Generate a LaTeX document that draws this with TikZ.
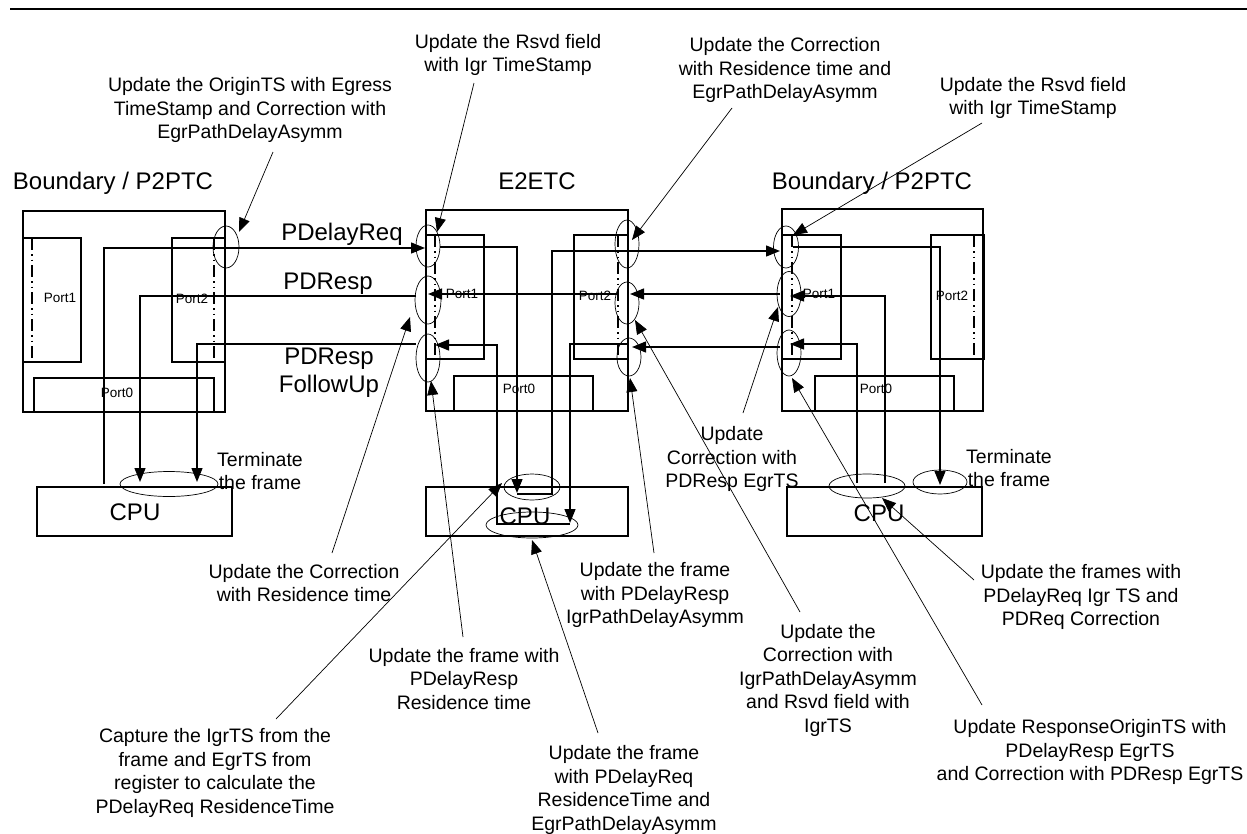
\documentclass[tikz,border=0pt]{standalone}
\usepackage{fontspec}
\setmainfont{Liberation Sans}
\usetikzlibrary{arrows.meta,shapes.geometric}

\tikzset{
  box/.style={line width=1.3pt},
  sig/.style={line width=1.3pt,-{Triangle[length=14pt,width=11pt]}},
  plain/.style={line width=1.3pt},
  lead/.style={line width=0.7pt,-{Triangle[length=14pt,width=11pt]}},
  tap/.style={draw,ellipse,line width=0.7pt,inner sep=0pt},
  portdash/.style={line width=2.4pt,dash pattern=on 12pt off 4pt on 1.5pt off 4pt on 1.5pt off 4pt},
  note/.style={font=\fontsize{19.5}{23.5}\selectfont,align=center,inner sep=0pt},
  big/.style={font=\fontsize{24}{28}\selectfont,align=center,inner sep=0pt},
  plabel/.style={font=\fontsize{13.5}{16}\selectfont,inner sep=0pt}
}

\begin{document}
\begin{tikzpicture}[x=1pt,y=-1pt]
\useasboundingbox (0,0) rectangle (1247,833);

\draw[line width=2pt] (10,9) -- (1247,9);

% Left device
\draw[box] (23,211) rectangle (225,412);
\draw[box] (23,238) rectangle (81,362);
\draw[box] (172,238) rectangle (225,362);
\draw[box] (34,378) rectangle (214,412);
\draw[portdash] (32,238) -- (32,362);
\draw[portdash] (214,238) -- (214,362);
\node[big] (titleL) at (113,183) {Boundary / P2PTC};
\node[plabel] (l1) at (60,298) {Port1};
\node[plabel] (l2) at (192,299) {Port2};
\node[plabel] (l0) at (117,393) {Port0};
\draw[box] (37,487) rectangle (232,536);
\node[big] (cpuL) at (135,512) {CPU};

% E2E transparent clock
\draw[box] (426,210) rectangle (628,411);
\draw[box] (426,235) rectangle (484,359);
\draw[box] (574,235) rectangle (628,359);
\draw[box] (454,376) rectangle (593,411);
\draw[portdash] (435,235) -- (435,359);
\draw[portdash] (618,235) -- (618,359);
\node[big] (titleM) at (537,181) {E2ETC};
\node[plabel] (m1) at (462,294) {Port1};
\node[plabel] (m2) at (595,296) {Port2};
\node[plabel] (m0) at (519,389) {Port0};
\draw[box] (426,487) rectangle (628,536);
\node[big] (cpuM) at (525,516) {CPU};

% Right device
\draw[box] (782,209) rectangle (983,411);
\draw[box] (782,235) rectangle (841,359);
\draw[box] (931,235) rectangle (984,359);
\draw[box] (815,376) rectangle (954,411);
\draw[portdash] (792,235) -- (792,359);
\draw[portdash] (974,235) -- (974,359);
\node[big] (titleR) at (872,183) {Boundary / P2PTC};
\node[plabel] (r1) at (819,294) {Port1};
\node[plabel] (r2) at (952,296) {Port2};
\node[plabel] (r0) at (876,389) {Port0};
\draw[box] (787,487) rectangle (982,536);
\node[big] (cpuR) at (879,513) {CPU};

% timestamp points
\node[tap,minimum width=26pt,minimum height=42pt] (tapL) at (226,247) {};
\node[tap,minimum width=98pt,minimum height=25pt] (tapLc) at (169,484) {};
\node[tap,minimum width=24pt,minimum height=42pt] (tapM1) at (428,246) {};
\node[tap,minimum width=26pt,minimum height=48pt] (tapM2) at (428,300) {};
\node[tap,minimum width=24pt,minimum height=48pt] (tapM3) at (428,358) {};
\node[tap,minimum width=24pt,minimum height=48pt] (tapM4) at (627,244) {};
\node[tap,minimum width=24pt,minimum height=42pt] (tapM5) at (627,303) {};
\node[tap,minimum width=24pt,minimum height=38pt] (tapM6) at (629,357) {};
\node[tap,minimum width=56pt,minimum height=26pt] (tapMc1) at (532,487) {};
\node[tap,minimum width=92pt,minimum height=26pt] (tapMc2) at (532,525) {};
\node[tap,minimum width=25pt,minimum height=42pt] (tapR1) at (786,247) {};
\node[tap,minimum width=24pt,minimum height=45pt] (tapR2) at (789,294) {};
\node[tap,minimum width=24pt,minimum height=46pt] (tapR3) at (789,353) {};
\node[tap,minimum width=76pt,minimum height=24pt] (tapRc1) at (867,486) {};
\node[tap,minimum width=54pt,minimum height=24pt] (tapRc2) at (940,482) {};

% message names
\node[big] (mReq) at (342,234) {PDelayReq};
\node[big] (mResp) at (328,284) {PDResp};
\node[big,font=\fontsize{24}{28}\selectfont] (mFup) at (329,373) {PDResp\\FollowUp};
\node[note] (termL) at (260,471) {Terminate\\the frame};
\node[note] (termR) at (1009,468) {Terminate\\the frame};

% signal ends
\coordinate (lReqA) at (104,484);   \coordinate (lReqB) at (425,248);
\coordinate (lRespA) at (416,296);  \coordinate (lRespB) at (140,482);
\coordinate (lFupA) at (416,344);   \coordinate (lFupB) at (197,482);
\coordinate (mReqA) at (440,247);   \coordinate (mReqB) at (517,493);
\coordinate (mReqC) at (517,494);   \coordinate (mReqD) at (780,251);
\coordinate (mRespA) at (780,294);  \coordinate (mRespB) at (630,294);
\coordinate (mRespC) at (618,294);  \coordinate (mRespD) at (428,294);
\coordinate (mFupA) at (780,347);   \coordinate (mFupB) at (632,347);
\coordinate (mFupC) at (628,344);   \coordinate (mFupD) at (570,523);
\coordinate (mFupE) at (570,524);   \coordinate (mFupF) at (435,345);
\coordinate (rReqA) at (793,247);   \coordinate (rReqB) at (940,485);
\coordinate (rRespA) at (885,483);  \coordinate (rRespB) at (790,296);
\coordinate (rFupA) at (857,483);   \coordinate (rFupB) at (790,344);

% PDelayReq
\draw[sig] (lReqA) |- (lReqB);
\draw[sig] (mReqA) -| (mReqB);
\draw[sig] (mReqC) -- (552,494) |- (mReqD);
\draw[sig] (rReqA) -| (rReqB);
% PDResp
\draw[sig] (rRespA) |- (rRespB);
\draw[sig] (mRespA) -- (mRespB);
\draw[sig] (mRespC) -- (mRespD);
\draw[sig] (lRespA) -| (lRespB);
% PDResp FollowUp
\draw[sig] (rFupA) |- (rFupB);
\draw[sig] (mFupA) -- (mFupB);
\draw[sig] (mFupC) -| (mFupD);
\draw[sig] (mFupE) -- (497,524) |- (mFupF);
\draw[sig] (lFupA) -| (lFupB);

% notes
\node[note] (nOrigin) at (250,110) {Update the OriginTS with Egress\\TimeStamp and Correction with\\EgrPathDelayAsymm};
\node[note] (nRsvdM) at (508,55) {Update the Rsvd field\\with Igr TimeStamp};
\node[note] (nCorrM) at (785,70) {Update the Correction\\with Residence time and\\EgrPathDelayAsymm};
\node[note] (nRsvdR) at (1033,98) {Update the Rsvd field\\with Igr TimeStamp};
\node[note] (nCorrRes) at (304,583) {Update the Correction\\with Residence time};
\node[note] (nRespRes) at (464,679) {Update the frame with\\PDelayResp\\Residence time};
\node[note] (nCapture) at (215,773) {Capture the IgrTS from the\\frame and EgrTS from\\register to calculate the\\PDelayReq ResidenceTime};
\node[note] (nReqRes) at (624,790) {Update the frame\\with PDelayReq\\ResidenceTime and\\EgrPathDelayAsymm};
\node[note] (nRespIgr) at (655,595) {Update the frame\\with PDelayResp\\IgrPathDelayAsymm};
\node[note] (nCorrIgr) at (828,680) {Update the\\Correction with\\IgrPathDelayAsymm\\and Rsvd field with\\IgrTS};
\node[note] (nCorrEgr) at (732,459) {Update\\Correction with\\PDResp EgrTS};
\node[note] (nFrames) at (1081,597) {Update the frames with\\PDelayReq Igr TS and\\PDReq Correction};
\node[note] (nRespOrig) at (1090,752) {Update ResponseOriginTS with\\PDelayResp EgrTS\\and Correction with PDResp EgrTS};

% leader ends
\coordinate (aOrigin) at (273,152);   \coordinate (tOrigin) at (239,232);
\coordinate (aRsvdM) at (474,83);     \coordinate (tRsvdM) at (437,232);
\coordinate (aCorrM) at (732,108);    \coordinate (tCorrM) at (632,240);
\coordinate (aRsvdR) at (982,123);    \coordinate (tRsvdR) at (793,235);
\coordinate (aCorrRes) at (332,553);  \coordinate (tCorrRes) at (410,317);
\coordinate (aRespRes) at (463,637);  \coordinate (tRespRes) at (431,381);
\coordinate (aCapture) at (276,719);  \coordinate (tCapture) at (502,483);
\coordinate (aReqRes) at (598,733);   \coordinate (tReqRes) at (532,540);
\coordinate (aRespIgr) at (654,553);  \coordinate (tRespIgr) at (630,378);
\coordinate (aCorrIgr) at (800,612);  \coordinate (tCorrIgr) at (635,320);
\coordinate (aCorrEgr) at (743,413);  \coordinate (tCorrEgr) at (778,307);
\coordinate (aFrames) at (974,580);   \coordinate (tFrames) at (882,498);
\coordinate (aRespOrig) at (982,705); \coordinate (tRespOrig) at (792,378);

\draw[lead] (aOrigin) -- (tOrigin);
\draw[lead] (aRsvdM) -- (tRsvdM);
\draw[lead] (aCorrM) -- (tCorrM);
\draw[lead] (aRsvdR) -- (tRsvdR);
\draw[lead] (aCorrRes) -- (tCorrRes);
\draw[lead] (aRespRes) -- (tRespRes);
\draw[lead] (aCapture) -- (tCapture);
\draw[lead] (aReqRes) -- (tReqRes);
\draw[lead] (aRespIgr) -- (tRespIgr);
\draw[lead] (aCorrIgr) -- (tCorrIgr);
\draw[lead] (aCorrEgr) -- (tCorrEgr);
\draw[lead] (aFrames) -- (tFrames);
\draw[lead] (aRespOrig) -- (tRespOrig);
\end{tikzpicture}
\end{document}
